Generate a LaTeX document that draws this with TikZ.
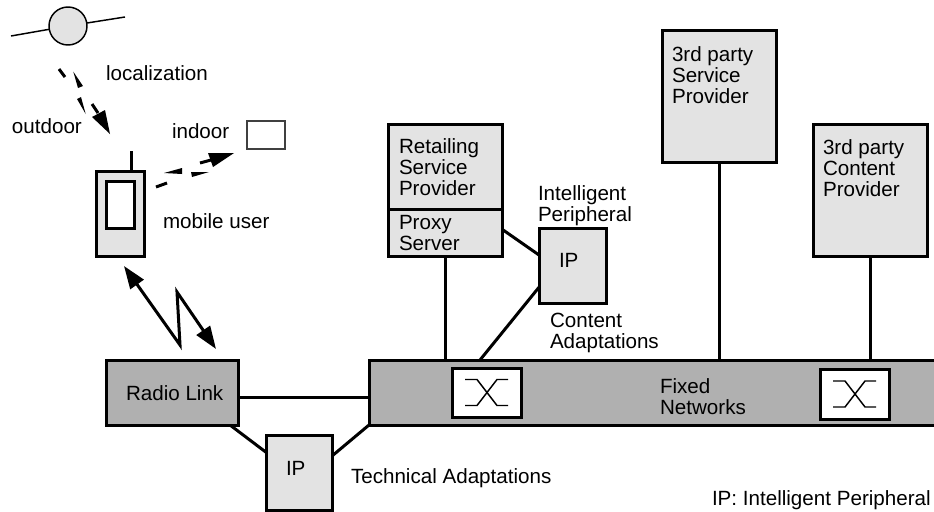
\documentclass[tikz,border=0pt]{standalone}
\usepackage{fontspec}
\setmainfont{Liberation Sans}
\usetikzlibrary{arrows.meta,calc}
\definecolor{lightbox}{HTML}{E3E3E3}
\definecolor{darkbox}{HTML}{B0B0B0}
\newcommand{\pxbox}[6]{%
  \pgfmathsetmacro{\bw}{(#5-#3)*.75}\pgfmathsetmacro{\bh}{(#6-#4)*.75}%
  \node[#2,minimum width=\bw pt,minimum height=\bh pt] (#1) at ({(#3+#5)/2},{(#4+#6)/2}) {};}
\newcommand{\swglyph}[1]{%
  \draw[thinline] ($(#1)+(-21.5,-13)$) -- ++(12,0) -- ++(20,26) -- ++(11,0);
  \draw[thinline] ($(#1)+(-21.5,13)$) -- ++(12,0) -- ++(20,-26) -- ++(11,0);}
\tikzset{
  x=.75pt,y=-.75pt,
  boxbase/.style={draw=black,line width=2.25pt,inner sep=0pt,outer sep=0pt,rectangle},
  lightnode/.style={boxbase,fill=lightbox},
  darknode/.style={boxbase,fill=darkbox},
  switchnode/.style={boxbase,fill=white},
  whitenode/.style={boxbase,fill=white},
  roomnode/.style={draw=black!75,line width=1.1pt,fill=white,inner sep=0pt,outer sep=0pt,rectangle},
  link/.style={line width=2.25pt,draw=black},
  thinline/.style={line width=1.1pt,draw=black},
  radio/.style={line width=2.25pt,draw=black,line join=miter,{Triangle[length=17pt,width=12pt]}-{Triangle[length=17pt,width=12pt]}},
  dashpiece/.style={line width=2.25pt,draw=black},
  lbl/.style={font=\fontsize{15.45}{15.75}\selectfont,inner sep=0pt,outer sep=0pt,anchor=base west,align=left},
  lblm/.style={font=\fontsize{15.45}{15.75}\selectfont,inner sep=0pt,outer sep=0pt,anchor=north west,align=left},
}
\begin{document}
\begin{tikzpicture}
\path[use as bounding box,clip] (0,0) rectangle (934,511);
% satellite
\node[lightnode,line width=1.1pt,circle,minimum size=28.5pt] (sat) at (68,26) {};
\coordinate (satL) at (11,36);
\coordinate (satR) at (125,17);
\draw[thinline] (satL) -- (sat);
\draw[thinline] (sat) -- (satR);
% outdoor dashed double arrow
\draw[dashpiece] (59,69) -- (65,77);
\fill (73.3,71.7) -- (83,86) -- (78,88) -- cycle;
\fill (85.7,114) -- (77,99) -- (81,97) -- cycle;
\draw[dashpiece] (92,104) -- (98,113);
\fill (110,134) -- (92,117) -- (105,110) -- cycle;
% indoor dashed double arrow
\draw[dashpiece] (156,187) -- (167,183);
\fill (164,173) -- (182,168) -- (182,174) -- cycle;
\fill (209,172) -- (191,172) -- (192,177) -- cycle;
\draw[dashpiece] (200,163) -- (211,160);
\fill (234,153) -- (208,153) -- (213,167) -- cycle;
% phone
\pxbox{phone}{lightnode}{96}{171}{144}{256}
\pxbox{screen}{whitenode}{106}{181}{134}{228}
\coordinate (ant) at (131,151);
\draw[link] (ant) -- (ant |- phone.north);
% room
\pxbox{room}{roomnode}{247}{121}{285}{149}
% main boxes
\pxbox{retail}{lightnode}{388}{124}{502}{209}
\pxbox{proxy}{lightnode}{388}{209}{502}{256}
\pxbox{ipu}{lightnode}{539}{228}{606}{303}
\pxbox{service}{lightnode}{662}{30}{776}{162}
\pxbox{content}{lightnode}{813}{124}{927}{256}
\pxbox{fixed}{darknode}{369}{360}{945}{425}
\pxbox{sw1}{switchnode}{452}{368}{521}{417}
\pxbox{sw2}{switchnode}{820}{369}{889}{419}
\swglyph{sw1}
\swglyph{sw2}
\pxbox{radlink}{darknode}{106}{360}{238}{425}
\pxbox{ipl}{lightnode}{266}{435}{332}{510}
% connectors
\coordinate (xa) at (445,0);
\coordinate (xb) at (480,0);
\coordinate (xc) at (719,0);
\coordinate (xd) at (870,0);
\coordinate (xe) at (230,0);
\coordinate (ya) at (0,397);
\draw[link] (proxy.south -| xa) -- (fixed.north -| xa);
\draw[link] ($(proxy.north east)!.43!(proxy.south east)$) -- ($(ipu.north west)!.36!(ipu.south west)$);
\draw[link] ($(ipu.north west)!.79!(ipu.south west)$) -- (fixed.north -| xb);
\draw[link] (service.south -| xc) -- (fixed.north -| xc);
\draw[link] (content.south -| xd) -- (fixed.north -| xd);
\draw[link] (radlink.east |- ya) -- (fixed.west |- ya);
\draw[link] (radlink.south -| xe) -- ($(ipl.north west)!.23!(ipl.south west)$);
\draw[link] ($(ipl.north east)!.28!(ipl.south east)$) -- (fixed.south west);
% radio arrow
\coordinate (rtop) at (124,266);
\coordinate (rbot) at (216,349);
\coordinate (rk1) at (180,345);
\coordinate (rk2) at (177,292);
\draw[radio] (rtop) -- (rk1) -- (rk2) -- (rbot);
% labels
\node[lbl] (t1) at (106,80) {localization};
\node[lbl] (t2) at (12,133) {outdoor};
\node[lbl] (t3) at (172,138) {indoor};
\node[lbl] (t4) at (163,228) {mobile user};
\node[lbl] (t5) at (126,400) {Radio Link};
\node[lbl] (t6) at (286,475) {IP};
\node[lbl] (t7) at (351,483) {Technical Adaptations};
\node[lblm] (t8) at (399,139) {Retailing\\Service\\Provider};
\node[lblm] (t9) at (399,215) {Proxy\\Server};
\node[lblm] (t10) at (538,186) {Intelligent\\Peripheral};
\node[lbl] (t11) at (559,267) {IP};
\node[lblm] (t12) at (550,313) {Content\\Adaptations};
\node[lblm] (t13) at (672,47) {3rd party\\Service\\Provider};
\node[lblm] (t14) at (823,140) {3rd party\\Content\\Provider};
\node[lblm] (t15) at (660,379) {Fixed\\Networks};
\node[lbl] (t16) at (712,505) {IP: Intelligent Peripheral};
\end{tikzpicture}
\end{document}
